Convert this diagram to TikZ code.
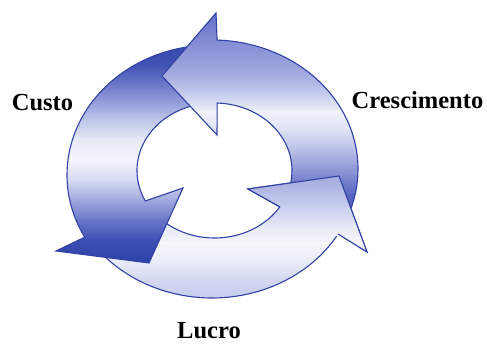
\documentclass[tikz,border=0pt]{standalone}
\usepackage{fontspec}
\setmainfont{Liberation Serif}
\definecolor{edgeblue}{RGB}{50,66,164}
\newcommand\gband[4]{\definecolor{gbtop}{RGB}{#3}\definecolor{gbbot}{RGB}{#4}\shade[top color=gbtop,bottom color=gbbot] (0,#1) rectangle (487,#2+0.6);}
\newcommand\bandsTop{%
\gband{5}{40}{92,108,198}{130,140,212}%
\gband{40}{75}{130,140,212}{164,172,224}%
\gband{75}{95}{164,172,224}{200,206,238}%
\gband{95}{112}{200,206,238}{240,242,250}%
\gband{112}{130}{240,242,250}{222,226,245}%
\gband{130}{150}{222,226,245}{184,190,230}%
\gband{150}{175}{184,190,230}{130,140,210}%
\gband{175}{195}{130,140,210}{88,102,192}%
\gband{195}{222}{88,102,192}{72,86,182}}
\newcommand\bandsCusto{%
\gband{35}{65}{48,68,170}{66,84,180}%
\gband{65}{90}{66,84,180}{120,132,206}%
\gband{90}{115}{120,132,206}{180,188,230}%
\gband{115}{138}{180,188,230}{228,231,246}%
\gband{138}{158}{228,231,246}{245,246,252}%
\gband{158}{180}{245,246,252}{214,218,242}%
\gband{180}{200}{214,218,242}{160,168,222}%
\gband{200}{220}{160,168,222}{104,118,200}%
\gband{220}{240}{104,118,200}{60,80,178}%
\gband{240}{270}{60,80,178}{40,60,164}}
\newcommand\bandsBottom{%
\gband{170}{190}{160,168,222}{178,185,229}%
\gband{190}{208}{178,185,229}{204,209,239}%
\gband{208}{226}{204,209,239}{230,233,247}%
\gband{226}{243}{230,233,247}{246,247,252}%
\gband{243}{260}{246,247,252}{234,237,249}%
\gband{260}{280}{234,237,249}{212,216,241}%
\gband{280}{305}{212,216,241}{192,198,235}}
% ring edges: (centre x, centre y, x radius, y radius); y grows downwards
\def\pathTop{(216,13) -- plot[domain=-88:20.3,samples=60] ({212+146*cos(\x)},{169+129*sin(\x)}) -- plot[domain=17.7:-88,samples=50] ({214.5+77.5*cos(\x)},{170.5+67.5*sin(\x)}) -- (217,135) -- (162,76) -- cycle}
\def\pathCusto{plot[domain=-95:-208.6,samples=60] ({212+145*cos(\x)},{175+130*sin(\x)}) -- (56,251) -- (149,263) -- (183,188) -- plot[domain=-206.8:-100.8,samples=50] ({214.5+77.5*cos(\x)},{170.5+67.5*sin(\x)}) -- cycle}
\def\pathBottom{plot[domain=146.7:30.3,samples=60] ({212+146*cos(\x)},{169+129*sin(\x)}) -- (367,252) -- (339,176) -- (248,189) -- plot[domain=32.6:135.4,samples=50] ({214.5+77.5*cos(\x)},{170.5+67.5*sin(\x)}) -- cycle}
\tikzset{outline/.style={draw=edgeblue,line width=1.1pt},
lbl/.style={font=\bfseries\fontsize{24.5}{28}\selectfont,inner sep=0pt,text=black,text depth=0pt}}
\begin{document}
\begin{tikzpicture}[x=1pt,y=-1pt]
\useasboundingbox (0,0) rectangle (487,344);
% bottom arrow (Lucro side)
\begin{scope}\clip \pathBottom; \bandsBottom \end{scope}
\draw[outline] \pathBottom;
% left arrow (Custo side)
\begin{scope}\clip \pathCusto; \bandsCusto \end{scope}
\draw[outline] \pathCusto;
% top arrow (Crescimento side)
\begin{scope}\clip \pathTop; \bandsTop \end{scope}
\draw[outline] \pathTop;
% bottom arrow head again, over the tail of the top arrow
\begin{scope}\clip (248,189) -- (339,176) -- (367,252) -- cycle; \bandsBottom \end{scope}
\draw[outline] (338,234) -- (367,252) -- (339,176) -- (248,189) -- (279.8,206.9);
% labels
\node[lbl,anchor=base] (custo) at (42.5,111) {Custo};
\node[lbl,anchor=base] (cresc) at (417.5,109) {Crescimento};
\node[lbl,anchor=base] (lucro) at (209,338.5) {Lucro};
\end{tikzpicture}
\end{document}
